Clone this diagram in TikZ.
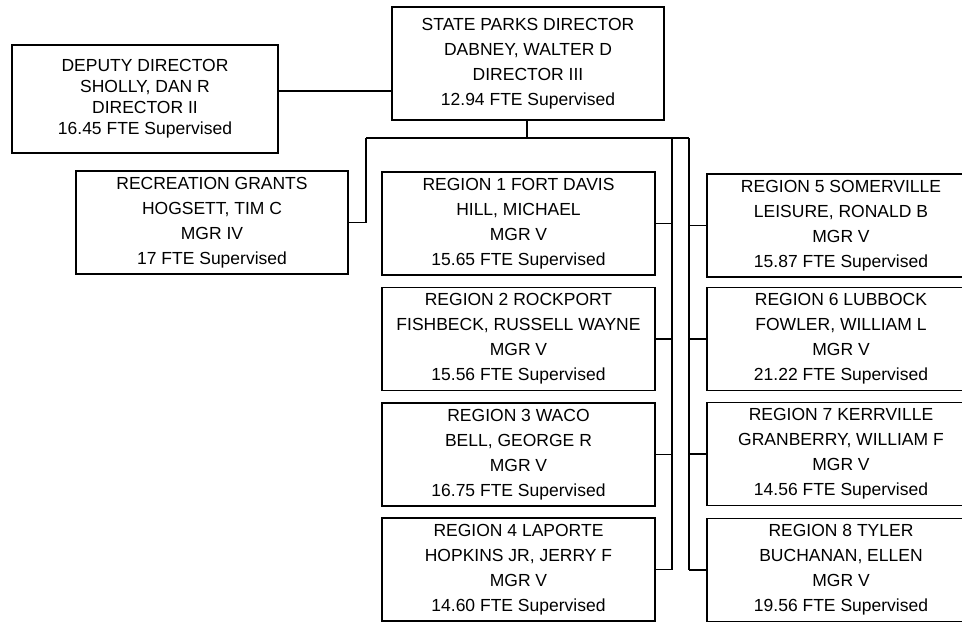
\documentclass[tikz,border=0pt]{standalone}
\usepackage{fontspec}
\setmainfont{Liberation Sans}
\usetikzlibrary{arrows,shapes}

\tikzset{
orgbox/.style={draw,line width=1.3pt,rectangle,align=center,inner sep=0pt,
  minimum height=103pt,font=\fontsize{17.5}{25}\selectfont},
leftbox/.style={orgbox,minimum width=273pt},
rightbox/.style={orgbox,minimum width=268pt},
tightbox/.style={font=\fontsize{17.5}{21}\selectfont},
link/.style={line width=1.3pt}
}

\begin{document}
\begin{tikzpicture}[x=1pt,y=-1pt]
\useasboundingbox (0,0) rectangle (962,624);
\node[orgbox,minimum width=272pt,minimum height=113pt](dir) at (528,63.5)
{STATE PARKS DIRECTOR\\DABNEY, WALTER D\\DIRECTOR III\\12.94 FTE Supervised};
\node[orgbox,tightbox,minimum width=266pt,minimum height=108pt](dep) at (145,99)
{DEPUTY DIRECTOR\\SHOLLY, DAN R\\DIRECTOR II\\16.45 FTE Supervised};
\node[orgbox,minimum width=272pt](rec) at (212,222.5)
{RECREATION GRANTS\\HOGSETT, TIM C\\MGR IV\\17 FTE Supervised};
\node[leftbox](r1) at (518.5,223.5)
{REGION 1 FORT DAVIS\\HILL, MICHAEL\\MGR V\\15.65 FTE Supervised};
\node[leftbox](r2) at (518.5,339)
{REGION 2 ROCKPORT\\FISHBECK, RUSSELL WAYNE\\MGR V\\15.56 FTE Supervised};
\node[leftbox](r3) at (518.5,454.5)
{REGION 3 WACO\\BELL, GEORGE R\\MGR V\\16.75 FTE Supervised};
\node[leftbox](r4) at (518.5,569.5)
{REGION 4 LAPORTE\\HOPKINS JR, JERRY F\\MGR V\\14.60 FTE Supervised};
\node[rightbox](r5) at (841,225.5)
{REGION 5 SOMERVILLE\\LEISURE, RONALD B\\MGR V\\15.87 FTE Supervised};
\node[rightbox](r6) at (841,339)
{REGION 6 LUBBOCK\\FOWLER, WILLIAM L\\MGR V\\21.22 FTE Supervised};
\node[rightbox](r7) at (841,454)
{REGION 7 KERRVILLE\\GRANBERRY, WILLIAM F\\MGR V\\14.56 FTE Supervised};
\node[rightbox](r8) at (841,570)
{REGION 8 TYLER\\BUCHANAN, ELLEN\\MGR V\\19.56 FTE Supervised};
\coordinate (busl) at (672,138);
\coordinate (busr) at (689,138);
\coordinate (busrec) at (366,138);
% connectors
\draw[link]
(dep.east |- 0,91)--(dir.west |- 0,91)
(dir.south -| 527,0)--(527,138)
(busrec)--(busr)
(busrec)--(busrec |- rec.east)--(rec.east)
(busl)--(busl |- r4.east)
(busr)--(busr |- r8.west)
(r1.east)--(busl |- r1.east)
(r2.east)--(busl |- r2.east)
(r3.east)--(busl |- r3.east)
(r4.east)--(busl |- r4.east)
(r5.west)--(busr |- r5.west)
(r6.west)--(busr |- r6.west)
(r7.west)--(busr |- r7.west)
(r8.west)--(busr |- r8.west)
;
\end{tikzpicture}
\end{document}
